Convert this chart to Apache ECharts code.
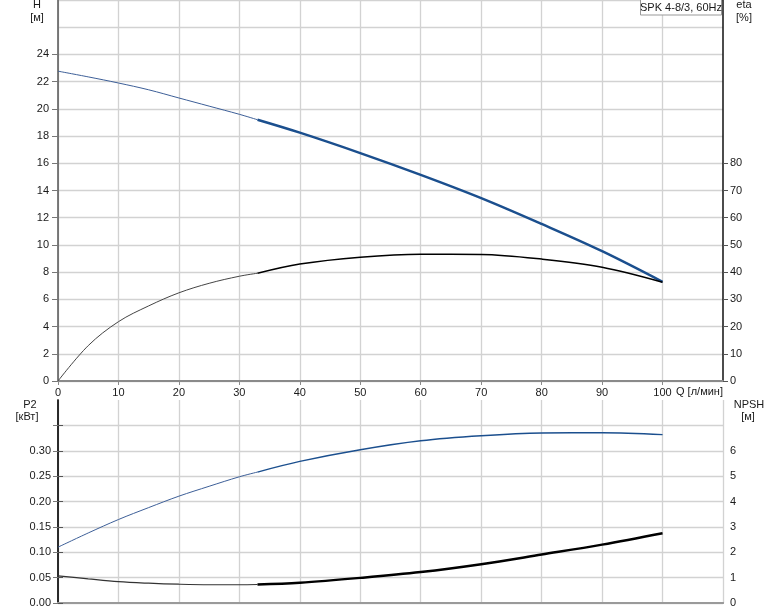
<!DOCTYPE html>
<html>
<head>
<meta charset="utf-8">
<script src="https://cdn.jsdelivr.net/npm/echarts@6/dist/echarts.min.js"></script>
<style>
html,body{margin:0;padding:0;background:#fff;}
#c{width:774px;height:611px;}
</style>
</head>
<body>
<div id="c"></div>
<script>
// ---- data ----
const Q      = [0, 5, 10, 15, 20, 25, 30, 33, 40, 50, 60, 70, 80, 90, 100];
const H      = [22.77, 22.35, 21.9, 21.4, 20.8, 20.2, 19.6, 19.2, 18.25, 16.75, 15.15, 13.44, 11.54, 9.54, 7.29];
const ETA    = [0, 13, 21.8, 27.6, 32.4, 35.9, 38.5, 39.6, 43, 45.5, 46.6, 46.5, 44.8, 41.8, 36.3];
const P2     = [0.110, 0.138, 0.1645, 0.188, 0.2105, 0.230, 0.2487, 0.258, 0.279, 0.302, 0.3197, 0.3296, 0.335, 0.3355, 0.3316];
const NPSH   = [1.07, 0.95, 0.84, 0.78, 0.74, 0.72, 0.72, 0.73, 0.80, 0.99, 1.22, 1.53, 1.91, 2.30, 2.75];
const SPLIT_Q = 33; // operating range start (thin -> thick)

const qTicks    = [0, 10, 20, 30, 40, 50, 60, 70, 80, 90, 100];
const hTicks    = [0, 2, 4, 6, 8, 10, 12, 14, 16, 18, 20, 22, 24];
const etaTicks  = [0, 10, 20, 30, 40, 50, 60, 70, 80];
const p2Ticks   = [0, 0.05, 0.10, 0.15, 0.20, 0.25, 0.30, 0.35];
const p2Labels  = [0, 0.05, 0.10, 0.15, 0.20, 0.25, 0.30];
const npTicks   = [0, 1, 2, 3, 4, 5, 6, 7];
const npLabels  = [0, 1, 2, 3, 4, 5, 6];

const TITLE = 'SPK 4-8/3, 60Hz';
const Q_NAME = 'Q [л/мин]';

// ---- build ----
const FONT = '"Liberation Sans", Arial, sans-serif';
const TXT = '#1a1a1a';
const GRID_C = '#d2d2d2';
const BLUE = '#1b4f8e';

function pairs(vals, from, to) {
  const out = [];
  for (let i = 0; i < Q.length; i++) {
    if (Q[i] >= from && Q[i] <= to) out.push([Q[i], vals[i]]);
  }
  return out;
}

const chart = echarts.init(document.getElementById('c'), null, {renderer: 'canvas'});

const lbl = {color: TXT, fontFamily: FONT, fontSize: 11};

function line(xi, yi, vals, from, to, color, width) {
  return {type: 'line', xAxisIndex: xi, yAxisIndex: yi, data: pairs(vals, from, to),
          smooth: 0.35, showSymbol: false, lineStyle: {color: color, width: width}};
}

const option = {
  animation: false,
  backgroundColor: '#fff',
  grid: [
    {left: 58, right: 51, top: 0, height: 381, containLabel: false},
    {left: 58, right: 51, top: 400, height: 203, containLabel: false}
  ],
  xAxis: [
    {
      type: 'value', gridIndex: 0, min: 0, max: 110, interval: 10,
      axisLine: {show: true, lineStyle: {color: '#8a8a8a', width: 2}},
      axisTick: {show: true, length: 4, customValues: qTicks, lineStyle: {color: '#8a8a8a'}},
      axisLabel: {show: true, customValues: qTicks, margin: 6, ...lbl},
      splitLine: {show: true, lineStyle: {color: GRID_C, width: 1.3}}
    },
    {
      type: 'value', gridIndex: 1, min: 0, max: 110, interval: 10,
      axisLine: {show: true, lineStyle: {color: '#9a9a9a', width: 2}},
      axisTick: {show: false}, axisLabel: {show: false},
      splitLine: {show: true, lineStyle: {color: GRID_C, width: 1.3}}
    },
    {
      type: 'value', gridIndex: 1, min: 0, max: 110, position: 'top',
      axisLine: {show: true, lineStyle: {color: '#9a9a9a', width: 2}},
      axisTick: {show: false}, axisLabel: {show: false}, splitLine: {show: false}
    }
  ],
  yAxis: [
    {
      type: 'value', gridIndex: 0, min: 0, max: 28, interval: 2, position: 'left',
      axisLine: {show: true, lineStyle: {color: '#555', width: 1.5}},
      axisTick: {show: false}, axisLabel: {show: false},
      splitLine: {show: true, lineStyle: {color: GRID_C, width: 1.3}}
    },
    {
      type: 'value', gridIndex: 0, min: 0, max: 28, interval: 2, position: 'left',
      axisLine: {show: false},
      axisTick: {show: true, length: 6, customValues: hTicks, lineStyle: {color: '#777'}},
      axisLabel: {show: true, customValues: hTicks, margin: 9, ...lbl},
      splitLine: {show: false}
    },
    {
      type: 'value', gridIndex: 0, min: 0, max: 140, interval: 10, position: 'right',
      axisLine: {show: true, lineStyle: {color: '#111', width: 1.5}},
      axisTick: {show: true, length: 5, customValues: etaTicks, lineStyle: {color: '#555'}},
      axisLabel: {show: true, customValues: etaTicks, margin: 7, ...lbl},
      splitLine: {show: false}
    },
    {
      type: 'value', gridIndex: 1, min: 0, max: 0.4, interval: 0.05, position: 'left',
      axisLine: {show: true, lineStyle: {color: '#555', width: 1.5}},
      axisTick: {show: true, length: 5, customValues: p2Ticks, lineStyle: {color: '#777'}},
      axisLabel: {show: true, customValues: p2Labels, margin: 7, ...lbl,
                  formatter: v => Number(v).toFixed(2)},
      splitLine: {show: true, lineStyle: {color: GRID_C, width: 1.3}}
    },
    {
      type: 'value', gridIndex: 1, min: 0, max: 8, interval: 1, position: 'right',
      axisLine: {show: true, lineStyle: {color: '#111', width: 1.5}},
      axisTick: {show: true, length: 5, customValues: npTicks, lineStyle: {color: '#555'}},
      axisLabel: {show: true, customValues: npLabels, margin: 7, ...lbl},
      splitLine: {show: false}
    }
  ],
  series: [
    line(0, 1, H, 0, SPLIT_Q, '#3d5f98', 1),
    line(0, 1, H, SPLIT_Q, 100, BLUE, 2.5),
    line(0, 2, ETA, 0, SPLIT_Q, '#444', 1),
    line(0, 2, ETA, SPLIT_Q, 100, '#000', 1.5),
    line(1, 3, P2, 0, SPLIT_Q, '#3d5f98', 1),
    line(1, 3, P2, SPLIT_Q, 100, BLUE, 1.3),
    line(1, 4, NPSH, 0, SPLIT_Q, '#333', 1.2),
    line(1, 4, NPSH, SPLIT_Q, 100, '#000', 2.5)
  ],
  graphic: [
    {type: 'text', x: 37, y: 5, style: {text: 'H', font: '11px ' + FONT, fill: TXT, align: 'center', verticalAlign: 'middle'}},
    {type: 'text', x: 37, y: 18, style: {text: '[м]', font: '11px ' + FONT, fill: TXT, align: 'center', verticalAlign: 'middle'}},
    {type: 'text', x: 744, y: 5, style: {text: 'eta', font: '11px ' + FONT, fill: TXT, align: 'center', verticalAlign: 'middle'}},
    {type: 'text', x: 744, y: 18, style: {text: '[%]', font: '11px ' + FONT, fill: TXT, align: 'center', verticalAlign: 'middle'}},
    {type: 'text', x: 30, y: 405, style: {text: 'P2', font: '11px ' + FONT, fill: TXT, align: 'center', verticalAlign: 'middle'}},
    {type: 'text', x: 27, y: 417, style: {text: '[кВт]', font: '11px ' + FONT, fill: TXT, align: 'center', verticalAlign: 'middle'}},
    {type: 'text', x: 749, y: 405, style: {text: 'NPSH', font: '11px ' + FONT, fill: TXT, align: 'center', verticalAlign: 'middle'}},
    {type: 'text', x: 748, y: 417, style: {text: '[м]', font: '11px ' + FONT, fill: TXT, align: 'center', verticalAlign: 'middle'}},
    {type: 'text', x: 676, y: 392, style: {text: Q_NAME, font: '11px ' + FONT, fill: TXT, align: 'left', verticalAlign: 'middle'}},
    {type: 'rect', shape: {x: 640.5, y: -0.5, width: 81, height: 15.5}, style: {fill: '#fff', stroke: '#999', lineWidth: 1}, z: 10},
    {type: 'text', x: 681, y: 8, z: 11, style: {text: TITLE, font: '11px ' + FONT, fill: TXT, align: 'center', verticalAlign: 'middle'}}
  ]
};
chart.setOption(option);
</script>
</body>
</html>
